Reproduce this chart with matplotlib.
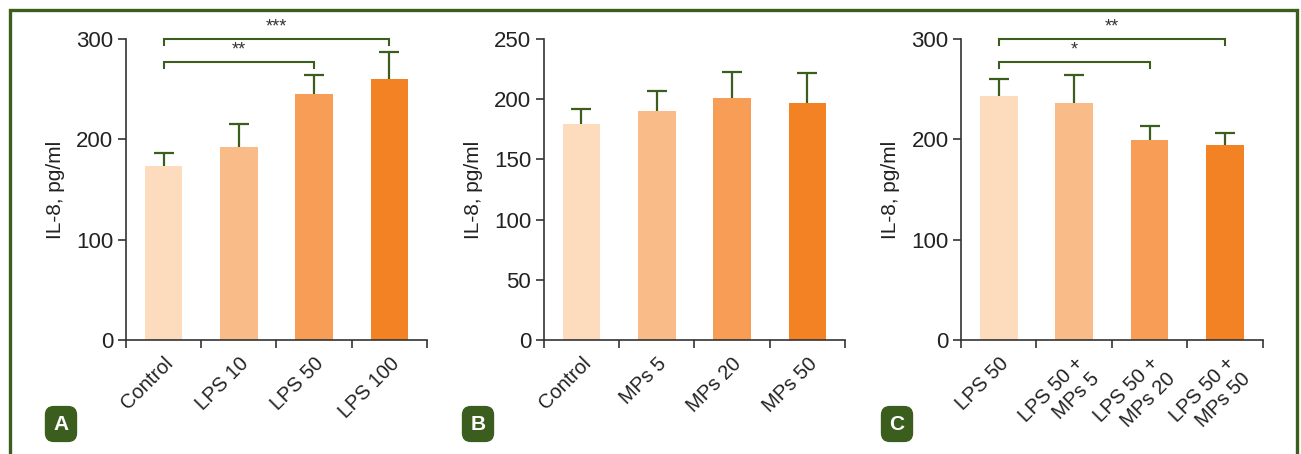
#!/usr/bin/env python3

import matplotlib as mpl
import matplotlib.pyplot as plt
from matplotlib.lines import Line2D

# panel A
labels_a = ['Control', 'LPS 10', 'LPS 50', 'LPS 100']
means_a = [173, 192, 245, 260]
err_a = [13, 23, 19, 27]

# panel B
labels_b = ['Control', 'MPs 5', 'MPs 20', 'MPs 50']
means_b = [179, 190, 201, 197]
err_b = [13, 17, 22, 25]

# panel C
labels_c = ['LPS 50', 'LPS 50 +\nMPs 5', 'LPS 50 +\nMPs 20', 'LPS 50 +\nMPs 50']
means_c = [243, 236, 199, 194]
err_c = [17, 28, 14, 12]

# significance brackets: (left bar, right bar, height, stars)
sig_a = [(0, 2, 277, '**'), (0, 3, 300, '***')]
sig_c = [(0, 2, 277, '*'), (0, 3, 300, '**')]

bar_colors = ['#FDDBBD', '#F9BB88', '#F79D55', '#F28223']
green = '#3B5E1E'
axcol = '#333333'


def draw_panel(ax, labels, means, errs, ymax, yticks, sig):
    x = range(len(means))
    lower = [0] * len(errs)
    ax.bar(x, means, width=0.5, color=bar_colors, zorder=2)
    _, caps, _ = ax.errorbar(x, means, yerr=[lower, errs], fmt='none',
                             ecolor=green, elinewidth=1.6, capsize=7.5,
                             capthick=1.6, zorder=1)
    # only the upper cap is drawn
    caps[0].set_visible(False)
    ax.set_xlim(-0.5, len(means) - 0.5)
    ax.set_ylim(0, ymax)
    ax.set_yticks(yticks)
    ax.set_xticks(list(x))
    ax.set_xticks([i - 0.5 for i in range(len(means) + 1)], minor=True)
    ax.set_xticklabels(labels, rotation=45, ha='right', rotation_mode='anchor',
                       multialignment='right', fontsize=14.5, color='#222222')
    ax.tick_params(axis='x', which='major', length=0, pad=10)
    ax.tick_params(axis='x', which='minor', length=6, width=1.2, color=axcol)
    ax.tick_params(axis='y', length=6, width=1.2, color=axcol,
                   labelsize=16, labelcolor='#222222', pad=3)
    for s in ['top', 'right']:
        ax.spines[s].set_visible(False)
    for s in ['left', 'bottom']:
        ax.spines[s].set_linewidth(1.2)
        ax.spines[s].set_color(axcol)
    ax.set_ylabel('IL-8, pg/ml', fontsize=15, color='#222222', labelpad=8)
    drop = ymax * 0.02
    for a, b, h, stars in sig:
        ax.plot([a, a, b, b], [h - drop, h, h, h - drop], color=green,
                lw=1.5, clip_on=False, solid_joinstyle='miter')
        ax.text((a + b) / 2, h + ymax * 0.012, stars, ha='center',
                va='bottom', fontsize=13, color='#333333')


def main():
    mpl.rcParams.update({'font.family': ['Liberation Sans', 'DejaVu Sans']})

    fig = plt.figure(figsize=(13.01, 4.54), dpi=100)
    bottom, top = 0.2511, 0.9141
    ax_a = fig.add_axes([0.0968, bottom, 0.2314, top - bottom])
    ax_b = fig.add_axes([0.4179, bottom, 0.2316, top - bottom])
    ax_c = fig.add_axes([0.7387, bottom, 0.2319, top - bottom])

    draw_panel(ax_a, labels_a, means_a, err_a, 300, [0, 100, 200, 300], sig_a)
    draw_panel(ax_b, labels_b, means_b, err_b, 250,
               [0, 50, 100, 150, 200, 250], [])
    draw_panel(ax_c, labels_c, means_c, err_c, 300, [0, 100, 200, 300], sig_c)

    # outer frame (open at the bottom)
    W, H = 1301, 454
    fx = [10 / W, 10 / W, 1297 / W, 1297 / W]
    fy = [0, 1 - 10 / H, 1 - 10 / H, 0]
    fig.add_artist(Line2D(fx, fy, color=green, lw=2.4,
                          solid_joinstyle='miter', transform=fig.transFigure))

    # panel letters
    for letter, px in [('A', 61), ('B', 478), ('C', 897)]:
        fig.text(px / W, 1 - 424 / H, letter, ha='center', va='center',
                 fontsize=15, fontweight='bold', color='white',
                 bbox=dict(boxstyle='round,pad=0.38,rounding_size=0.4',
                           fc=green, ec=green))

    fig.savefig('out.png', dpi=100)


if __name__ == "__main__":
    main()
